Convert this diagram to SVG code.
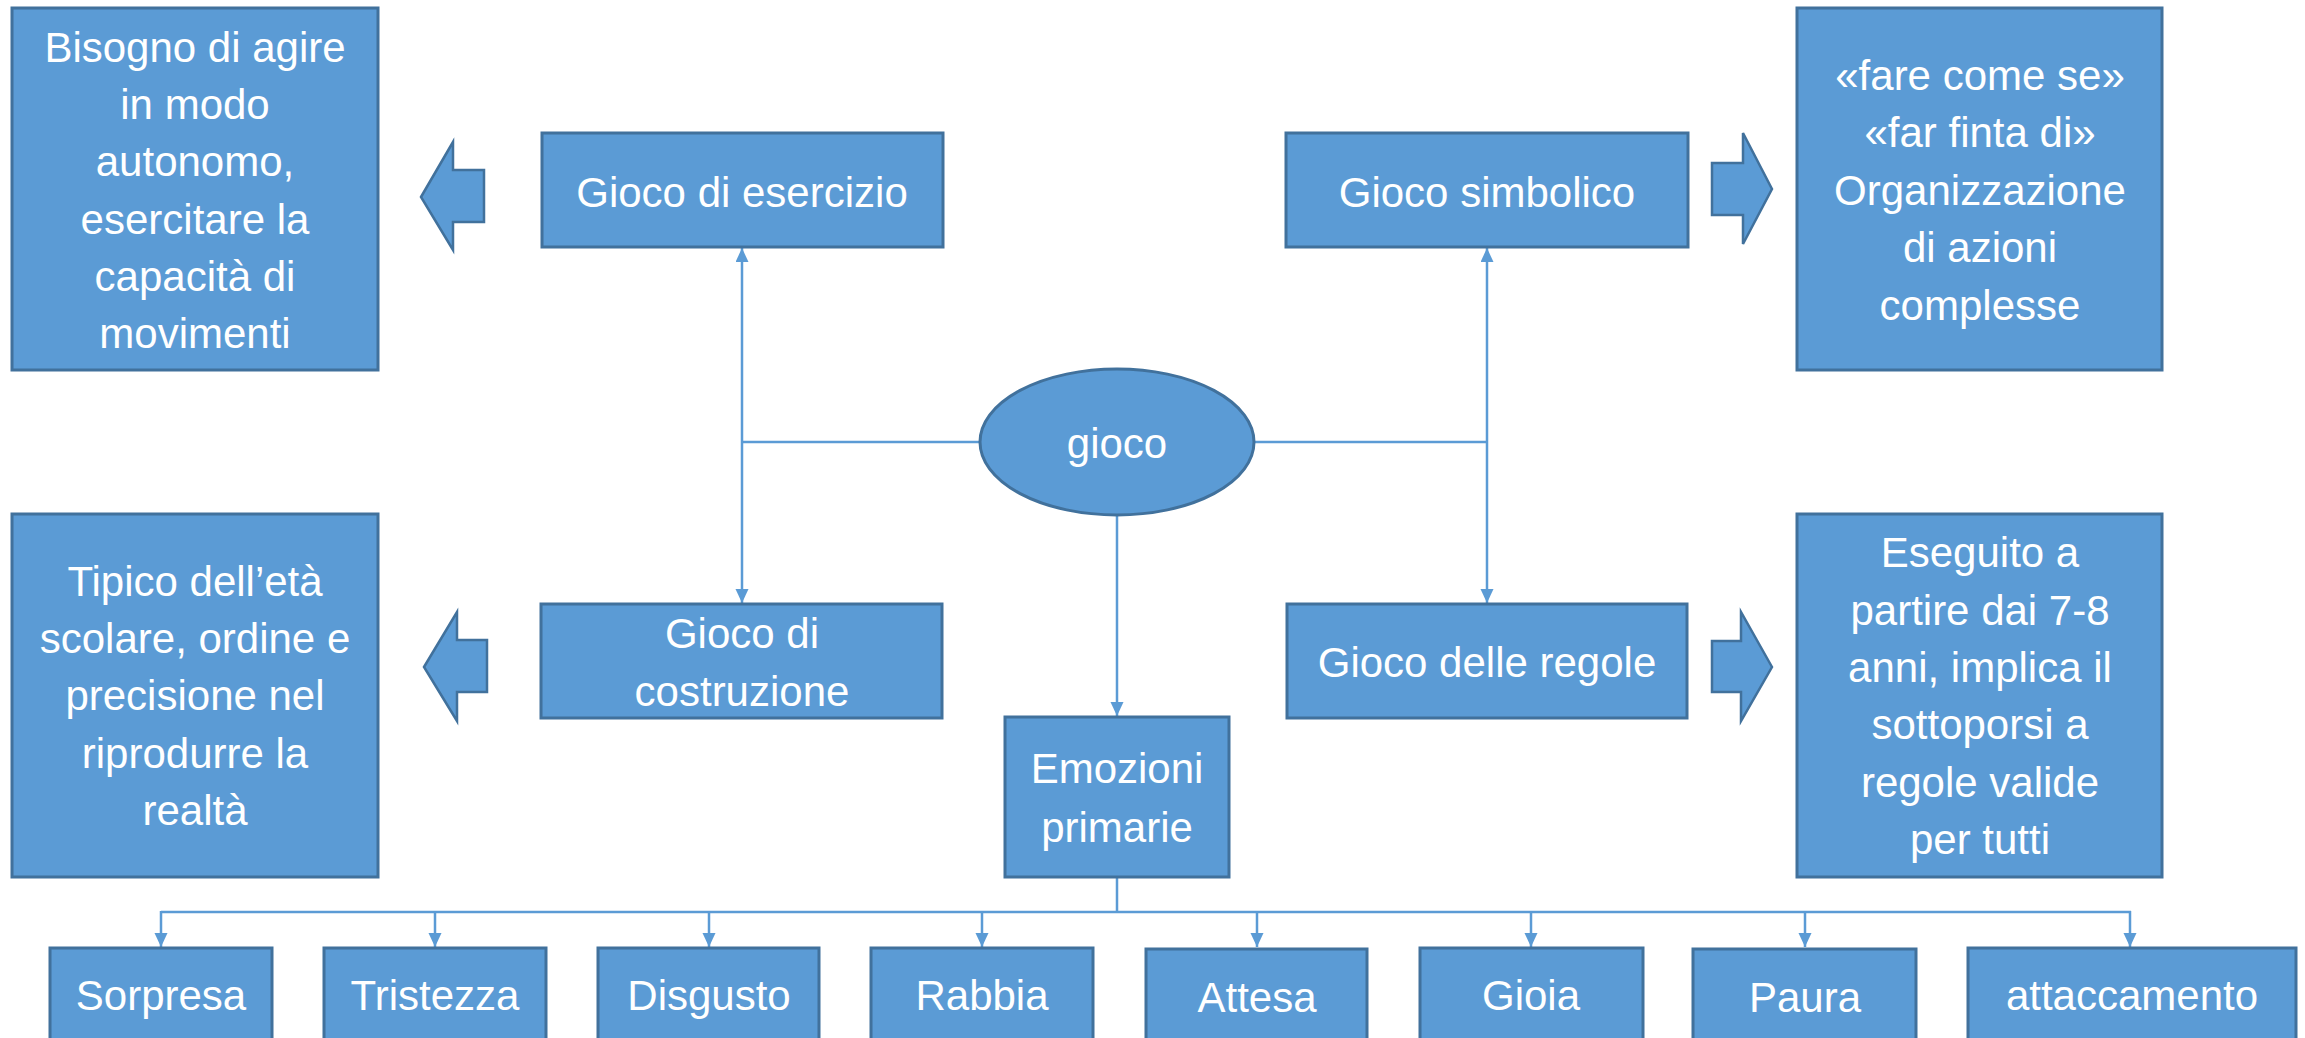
<svg xmlns="http://www.w3.org/2000/svg" width="2305" height="1038" viewBox="0 0 2305 1038">
<style>
.box{fill:#5b9bd5;stroke:#41719c;stroke-width:3}
.blk{fill:#5b9bd5;stroke:#41719c;stroke-width:2.5;stroke-linejoin:miter}
.t{font-family:"Liberation Sans",Arial,sans-serif;font-size:42px;fill:#ffffff;text-anchor:middle}
.c{fill:none;stroke:#5b9bd5;stroke-width:2.5}
</style>
<defs>
<marker id="ah" markerUnits="userSpaceOnUse" markerWidth="14" markerHeight="14" refX="14" refY="6.5" orient="auto">
<path d="M0,0 L14,6.5 L0,13 z" fill="#5b9bd5"/>
</marker>
</defs>
<rect width="2305" height="1038" fill="#ffffff"/>
<g id="connectors">
<line class="c" x1="980" y1="442" x2="742" y2="442"/>
<line class="c" x1="742" y1="442" x2="742" y2="248" marker-end="url(#ah)"/>
<line class="c" x1="742" y1="442" x2="742" y2="603" marker-end="url(#ah)"/>
<line class="c" x1="1254" y1="442" x2="1487" y2="442"/>
<line class="c" x1="1487" y1="442" x2="1487" y2="248" marker-end="url(#ah)"/>
<line class="c" x1="1487" y1="442" x2="1487" y2="603" marker-end="url(#ah)"/>
<line class="c" x1="1117" y1="515" x2="1117" y2="716" marker-end="url(#ah)"/>
<line class="c" x1="1117" y1="877" x2="1117" y2="912"/>
<line class="c" x1="161" y1="912" x2="2131" y2="912"/>
<line class="c" x1="161" y1="911" x2="161" y2="947" marker-end="url(#ah)"/>
<line class="c" x1="435" y1="911" x2="435" y2="947" marker-end="url(#ah)"/>
<line class="c" x1="709" y1="911" x2="709" y2="947" marker-end="url(#ah)"/>
<line class="c" x1="982" y1="911" x2="982" y2="947" marker-end="url(#ah)"/>
<line class="c" x1="1257" y1="911" x2="1257" y2="947" marker-end="url(#ah)"/>
<line class="c" x1="1531" y1="911" x2="1531" y2="947" marker-end="url(#ah)"/>
<line class="c" x1="1805" y1="911" x2="1805" y2="947" marker-end="url(#ah)"/>
<line class="c" x1="2130" y1="911" x2="2130" y2="947" marker-end="url(#ah)"/>
</g>
<g id="block-arrows">
<polygon class="blk" points="421,197 453,142 453,170 484,170 484,222 453,222 453,250"/>
<polygon class="blk" points="424,667 457,612 457,640 487,640 487,692 457,692 457,721"/>
<polygon class="blk" points="1772,189 1743,133 1743,163 1712,163 1712,215 1743,215 1743,244"/>
<polygon class="blk" points="1772,667 1741,612 1741,641 1712,641 1712,692 1741,692 1741,721"/>
</g>
<g id="bisogno">
<rect class="box" x="12" y="8" width="366" height="362"/>
<text class="t" x="195" y="62">Bisogno di agire</text>
<text class="t" x="195" y="119">in modo</text>
<text class="t" x="195" y="176">autonomo,</text>
<text class="t" x="195" y="234">esercitare la</text>
<text class="t" x="195" y="291">capacità di</text>
<text class="t" x="195" y="348">movimenti</text>
</g>
<g id="gioco-esercizio">
<rect class="box" x="542" y="133" width="401" height="114"/>
<text class="t" x="742" y="207">Gioco di esercizio</text>
</g>
<g id="gioco-simbolico">
<rect class="box" x="1286" y="133" width="402" height="114"/>
<text class="t" x="1487" y="207">Gioco simbolico</text>
</g>
<g id="fare-come-se">
<rect class="box" x="1797" y="8" width="365" height="362"/>
<text class="t" x="1980" y="90">«fare come se»</text>
<text class="t" x="1980" y="147">«far finta di»</text>
<text class="t" x="1980" y="205">Organizzazione</text>
<text class="t" x="1980" y="262">di azioni</text>
<text class="t" x="1980" y="320">complesse</text>
</g>
<g id="gioco">
<ellipse class="box" cx="1117" cy="442" rx="137" ry="73"/>
<text class="t" x="1117" y="458">gioco</text>
</g>
<g id="tipico">
<rect class="box" x="12" y="514" width="366" height="363"/>
<text class="t" x="195" y="596">Tipico dell’età</text>
<text class="t" x="195" y="653">scolare, ordine e</text>
<text class="t" x="195" y="710">precisione nel</text>
<text class="t" x="195" y="768">riprodurre la</text>
<text class="t" x="195" y="825">realtà</text>
</g>
<g id="gioco-costruzione">
<rect class="box" x="541" y="604" width="401" height="114"/>
<text class="t" x="742" y="648">Gioco di</text>
<text class="t" x="742" y="706">costruzione</text>
</g>
<g id="emozioni-primarie">
<rect class="box" x="1005" y="717" width="224" height="160"/>
<text class="t" x="1117" y="783">Emozioni</text>
<text class="t" x="1117" y="842">primarie</text>
</g>
<g id="gioco-regole">
<rect class="box" x="1287" y="604" width="400" height="114"/>
<text class="t" x="1487" y="677">Gioco delle regole</text>
</g>
<g id="eseguito">
<rect class="box" x="1797" y="514" width="365" height="363"/>
<text class="t" x="1980" y="567">Eseguito a</text>
<text class="t" x="1980" y="625">partire dai 7-8</text>
<text class="t" x="1980" y="682">anni, implica il</text>
<text class="t" x="1980" y="739">sottoporsi a</text>
<text class="t" x="1980" y="797">regole valide</text>
<text class="t" x="1980" y="854">per tutti</text>
</g>
<g id="sorpresa"><rect class="box" x="50" y="948" width="222" height="110"/><text class="t" x="161" y="1010">Sorpresa</text></g>
<g id="tristezza"><rect class="box" x="324" y="948" width="222" height="110"/><text class="t" x="435" y="1010">Tristezza</text></g>
<g id="disgusto"><rect class="box" x="598" y="948" width="221" height="110"/><text class="t" x="709" y="1010">Disgusto</text></g>
<g id="rabbia"><rect class="box" x="871" y="948" width="222" height="110"/><text class="t" x="982" y="1010">Rabbia</text></g>
<g id="attesa"><rect class="box" x="1146" y="949" width="221" height="110"/><text class="t" x="1257" y="1012">Attesa</text></g>
<g id="gioia"><rect class="box" x="1420" y="948" width="223" height="110"/><text class="t" x="1531" y="1010">Gioia</text></g>
<g id="paura"><rect class="box" x="1693" y="949" width="223" height="110"/><text class="t" x="1805" y="1012">Paura</text></g>
<g id="attaccamento"><rect class="box" x="1968" y="948" width="328" height="110"/><text class="t" x="2132" y="1010">attaccamento</text></g>
</svg>
